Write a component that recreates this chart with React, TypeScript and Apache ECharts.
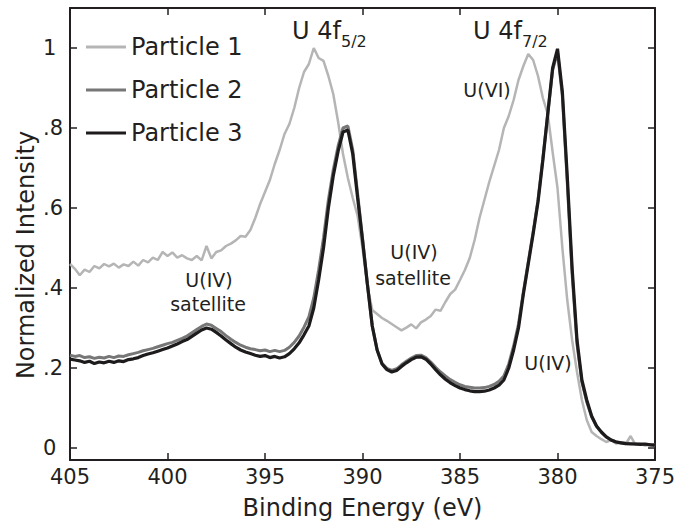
import React, { useEffect, useRef } from 'react';
import * as echarts from 'echarts';

// Binding energy sampling grid (eV)
const energies = [
  405, 404.75, 404.5, 404.25, 404, 403.75, 403.5, 403.25, 403, 402.75, 402.5, 402.25,
  402, 401.75, 401.5, 401.25, 401, 400.75, 400.5, 400.25, 400, 399.75, 399.5, 399.25,
  399, 398.75, 398.5, 398.25, 398, 397.75, 397.5, 397.25, 397, 396.75, 396.5, 396.25,
  396, 395.75, 395.5, 395.25, 395, 394.75, 394.5, 394.25, 394, 393.75, 393.5, 393.25,
  393, 392.75, 392.5, 392.25, 392, 391.75, 391.5, 391.25, 391, 390.75, 390.5, 390.25,
  390, 389.75, 389.5, 389.25, 389, 388.75, 388.5, 388.25, 388, 387.75, 387.5, 387.25,
  387, 386.75, 386.5, 386.25, 386, 385.75, 385.5, 385.25, 385, 384.75, 384.5, 384.25,
  384, 383.75, 383.5, 383.25, 383, 382.75, 382.5, 382.25, 382, 381.75, 381.5, 381.25,
  381, 380.75, 380.5, 380.25, 380, 379.75, 379.5, 379.25, 379, 378.75, 378.5, 378.25,
  378, 377.75, 377.5, 377.25, 377, 376.75, 376.5, 376.25, 376, 375.75, 375.5, 375.25,
  375,
];

const particle1 = [
  0.460, 0.448, 0.432, 0.446, 0.440, 0.455, 0.449, 0.460, 0.454, 0.461, 0.451, 0.459,
  0.455, 0.466, 0.456, 0.470, 0.464, 0.476, 0.470, 0.490, 0.480, 0.489, 0.476, 0.482,
  0.474, 0.470, 0.480, 0.469, 0.505, 0.474, 0.490, 0.494, 0.505, 0.511, 0.519, 0.530,
  0.528, 0.545, 0.575, 0.610, 0.640, 0.670, 0.710, 0.745, 0.785, 0.810, 0.850, 0.900,
  0.940, 0.960, 1.000, 0.975, 0.968, 0.930, 0.885, 0.815, 0.735, 0.675, 0.625, 0.580,
  0.500, 0.405, 0.345, 0.335, 0.325, 0.318, 0.310, 0.302, 0.294, 0.301, 0.309, 0.299,
  0.314, 0.321, 0.330, 0.346, 0.343, 0.365, 0.385, 0.396, 0.420, 0.445, 0.475, 0.520,
  0.575, 0.620, 0.665, 0.705, 0.745, 0.800, 0.830, 0.870, 0.920, 0.955, 0.985, 0.970,
  0.930, 0.875, 0.835, 0.740, 0.650, 0.500, 0.370, 0.270, 0.190, 0.120, 0.070, 0.040,
  0.030, 0.022, 0.015, 0.020, 0.011, 0.013, 0.010, 0.030, 0.008, 0.010, 0.006, 0.008,
  0.005,
];

const particle2 = [
  0.232, 0.229, 0.231, 0.226, 0.228, 0.224, 0.227, 0.225, 0.229, 0.226, 0.230, 0.229,
  0.233, 0.236, 0.239, 0.243, 0.246, 0.249, 0.253, 0.257, 0.261, 0.264, 0.269, 0.274,
  0.280, 0.288, 0.296, 0.304, 0.310, 0.307, 0.299, 0.291, 0.281, 0.272, 0.264, 0.257,
  0.252, 0.248, 0.246, 0.243, 0.245, 0.241, 0.244, 0.241, 0.244, 0.252, 0.264, 0.280,
  0.302, 0.328, 0.375, 0.445, 0.525, 0.620, 0.695, 0.755, 0.800, 0.805, 0.745, 0.635,
  0.525, 0.410, 0.305, 0.245, 0.212, 0.199, 0.194, 0.198, 0.208, 0.217, 0.225, 0.231,
  0.232, 0.226, 0.215, 0.202, 0.190, 0.180, 0.171, 0.164, 0.158, 0.154, 0.152, 0.150,
  0.150, 0.151, 0.154, 0.159, 0.167, 0.180, 0.210, 0.255, 0.310, 0.390, 0.465, 0.540,
  0.620, 0.725, 0.835, 0.945, 0.990, 0.880, 0.665, 0.435, 0.260, 0.165, 0.115, 0.078,
  0.054, 0.039, 0.028, 0.020, 0.016, 0.013, 0.012, 0.011, 0.010, 0.010, 0.009, 0.009,
  0.008,
];

const particle3 = [
  0.222, 0.220, 0.218, 0.214, 0.217, 0.211, 0.215, 0.213, 0.217, 0.214, 0.218, 0.216,
  0.221, 0.223, 0.226, 0.231, 0.235, 0.238, 0.242, 0.246, 0.250, 0.255, 0.260, 0.266,
  0.271, 0.279, 0.287, 0.295, 0.300, 0.297, 0.289, 0.280, 0.270, 0.261, 0.252, 0.245,
  0.240, 0.236, 0.232, 0.229, 0.231, 0.226, 0.229, 0.225, 0.228, 0.236, 0.248, 0.263,
  0.283, 0.305, 0.350, 0.420, 0.500, 0.600, 0.680, 0.742, 0.790, 0.795, 0.735, 0.625,
  0.520, 0.410, 0.305, 0.245, 0.210, 0.196, 0.190, 0.194, 0.204, 0.213, 0.221, 0.227,
  0.228, 0.222, 0.210, 0.196, 0.183, 0.172, 0.163, 0.156, 0.150, 0.146, 0.143, 0.141,
  0.141, 0.142, 0.145, 0.150, 0.157, 0.170, 0.200, 0.245, 0.300, 0.385, 0.460, 0.535,
  0.615, 0.720, 0.835, 0.950, 0.998, 0.890, 0.680, 0.450, 0.270, 0.170, 0.120, 0.080,
  0.055, 0.040, 0.028, 0.020, 0.015, 0.013, 0.011, 0.010, 0.010, 0.009, 0.010, 0.008,
  0.007,
];

const seriesNames = ['Particle 1', 'Particle 2', 'Particle 3'];
const seriesColors = ['#b5b5b5', '#777777', '#1e1b1c'];
const seriesWidths = [2.5, 3, 3.2];

const FONT = 'DejaVu Sans';
const INK = '#231f20';

export default function App() {
  const ref = useRef<HTMLDivElement>(null);

  useEffect(() => {
    if (!ref.current) return;
    const chart = echarts.init(ref.current, null, { renderer: 'svg' });

    const yFmt = (v: number) => {
      const r = Math.round(v * 10) / 10;
      if (Math.abs(v - r) > 1e-6) return '';
      const k = Math.round(r * 10);
      if (k % 2 !== 0 || k < 0 || k > 10) return '';
      if (k === 0) return '0';
      if (k === 10) return '1';
      return '.' + k;
    };

    const axisLine = { show: true, onZero: false, lineStyle: { color: INK, width: 2 } };
    const axisTick = { show: true, inside: true, length: 7, lineStyle: { color: INK, width: 1.5 } };

    const allData = [particle1, particle2, particle3];

    const txt = (text: string, x: number, y: number, size: number, align = 'center') => ({
      type: 'text',
      x,
      y,
      silent: true,
      style: {
        text,
        fontFamily: FONT,
        fontSize: size,
        fill: INK,
        align,
        verticalAlign: 'middle',
      },
    });

    chart.setOption({
      animation: false,
      backgroundColor: '#ffffff',
      grid: { left: 70, right: 35, top: 8, bottom: 66, containLabel: false },
      legend: {
        orient: 'vertical',
        left: 81,
        top: 30,
        icon: 'rect',
        itemWidth: 40,
        itemHeight: 3,
        itemGap: 19,
        data: seriesNames,
        textStyle: { fontFamily: FONT, fontSize: 24, color: INK },
      },
      xAxis: [
        {
          type: 'value',
          min: 375,
          max: 405,
          interval: 5,
          inverse: true,
          position: 'bottom',
          axisLine,
          axisTick,
          axisLabel: { fontFamily: FONT, fontSize: 21, color: INK, margin: 6 },
          splitLine: { show: false },
          name: 'Binding Energy (eV)',
          nameLocation: 'middle',
          nameGap: 36,
          nameTextStyle: { fontFamily: FONT, fontSize: 24, color: INK },
        },
        {
          type: 'value',
          min: 375,
          max: 405,
          interval: 5,
          inverse: true,
          position: 'top',
          axisLine,
          axisTick,
          axisLabel: { show: false },
          splitLine: { show: false },
        },
      ],
      yAxis: [
        {
          type: 'value',
          min: -0.03,
          max: 1.1,
          splitNumber: 5,
          position: 'left',
          axisLine,
          axisTick,
          axisLabel: {
            fontFamily: FONT,
            fontSize: 21,
            color: INK,
            align: 'left',
            margin: 27,
            showMinLabel: false,
            showMaxLabel: false,
            formatter: yFmt,
          },
          splitLine: { show: false },
        },
        {
          type: 'value',
          min: -0.03,
          max: 1.1,
          splitNumber: 5,
          position: 'right',
          axisLine,
          axisTick,
          axisLabel: { show: false },
          splitLine: { show: false },
        },
      ],
      series: seriesNames.map((name, s) => ({
        name,
        type: 'line',
        xAxisIndex: 0,
        yAxisIndex: 0,
        symbol: 'none',
        showSymbol: false,
        z: 2 + s,
        lineStyle: { color: seriesColors[s], width: seriesWidths[s] },
        itemStyle: { color: seriesColors[s] },
        data: energies.map((e, i) => [e, allData[s][i]]),
      })),
      graphic: [
        txt('U 4f', 292, 31, 24, 'left'),
        txt('5/2', 341, 41, 16, 'left'),
        txt('U 4f', 473, 31, 24, 'left'),
        txt('7/2', 522, 41, 16, 'left'),
        txt('U(VI)', 487, 90, 19),
        txt('U(IV)', 548, 363, 19),
        txt('U(IV)', 209, 280, 19),
        txt('satellite', 208, 304, 19),
        txt('U(IV)', 414, 252, 19),
        txt('satellite', 413, 278, 19),
        {
          type: 'text',
          x: 26,
          y: 255,
          rotation: Math.PI / 2,
          silent: true,
          style: {
            text: 'Normalized Intensity',
            fontFamily: FONT,
            fontSize: 24,
            fill: INK,
            align: 'center',
            verticalAlign: 'middle',
          },
        },
      ],
    });

    return () => chart.dispose();
  }, []);

  return (
    <div
      ref={ref}
      style={{ position: 'fixed', left: 0, top: 0, width: 690, height: 526, background: '#fff' }}
    />
  );
}
